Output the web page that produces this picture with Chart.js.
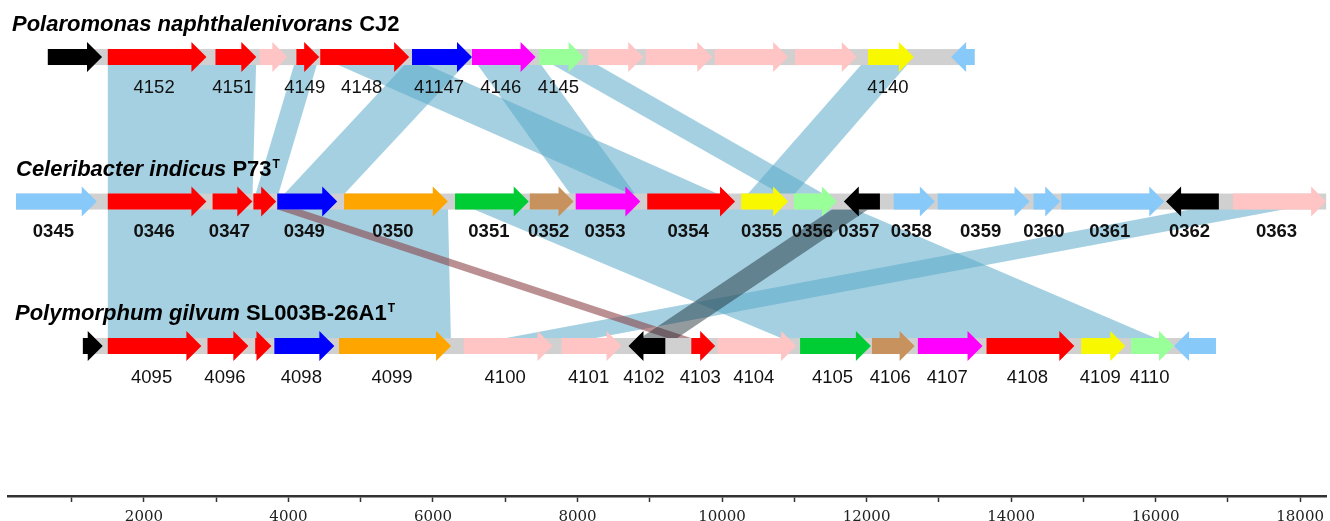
<!DOCTYPE html>
<html>
<head>
<meta charset="utf-8">
<script src="https://cdn.jsdelivr.net/npm/chart.js@4.4.1/dist/chart.umd.min.js"></script>
<style>
  html, body { margin: 0; padding: 0; background: #fff; }
</style>
</head>
<body>
<canvas id="synteny" width="1330" height="521"></canvas>
<script>
// Genome names (italic part, strain, superscript)
const titleSpecies = ['Polaromonas naphthalenivorans', 'Celeribacter indicus', 'Polymorphum gilvum'];
const titleStrain = ['CJ2', 'P73', 'SL003B-26A1'];
const titleSup = ['', 'T', 'T'];
const trackLevel = [3, 2, 1];

// axis ticks (bp), labelled every 2000
const tickValues = [1000, 2000, 3000, 4000, 5000, 6000, 7000, 8000, 9000, 10000,
                    11000, 12000, 13000, 14000, 15000, 16000, 17000, 18000];

// Track 1 - Polaromonas (bp)
const t1Start = [670, 1500, 2990, 3600, 4110, 4440, 5710, 6540, 7470, 8150, 8945, 9900, 11010, 12020, 13170];
const t1End   = [1420, 2865, 3555, 3985, 4425, 5670, 6540, 7420, 8085, 8910, 9865, 10915, 11865, 12655, 13495];
const t1Dir   = [1, 1, 1, 1, 1, 1, 1, 1, 1, 1, 1, 1, 1, 1, -1];
const t1Color = ['black', 'red', 'red', 'pink', 'red', 'red', 'blue', 'magenta', 'palegreen', 'pink', 'pink', 'pink', 'pink', 'yellow', 'skyblue'];
const t1Label = ['', '4152', '4151', '', '4149', '4148', '41147', '4146', '4145', '', '', '', '', '4140', ''];

// Track 2 - Celeribacter
const t2Start = [230, 1500, 2950, 3515, 3845, 4770, 6305, 7340, 7975, 8965, 10265, 10995, 11685, 12375, 12985, 14310, 14695, 16145, 17070];
const t2End   = [1347, 2865, 3500, 3830, 4675, 6205, 7325, 7945, 8870, 10180, 10915, 11590, 12185, 12945, 14255, 14680, 16120, 16875, 18360];
const t2Dir   = [1, 1, 1, 1, 1, 1, 1, 1, 1, 1, 1, 1, -1, 1, 1, 1, 1, -1, 1];
const t2Color = ['skyblue', 'red', 'red', 'red', 'blue', 'orange', 'green', 'brown', 'magenta', 'red', 'yellow', 'palegreen', 'black', 'skyblue', 'skyblue', 'skyblue', 'skyblue', 'black', 'pink'];
const t2Label = ['0345', '0346', '0347', '0348', '0349', '0350', '0351', '0352', '0353', '0354', '0355', '0356', '0357', '0358', '0359', '0360', '0361', '0362', '0363'];

// Track 3 - Polymorphum
const t3Start = [1155, 1500, 2880, 3540, 3805, 4700, 6425, 7780, 8705, 9575, 9935, 11080, 12075, 12710, 13660, 14970, 15660, 16255];
const t3End   = [1430, 2795, 3445, 3765, 4635, 6250, 7655, 8610, 9215, 9905, 11025, 12060, 12665, 13605, 14875, 15580, 16255, 16835];
const t3Dir   = [1, 1, 1, 1, 1, 1, 1, 1, -1, 1, 1, 1, 1, 1, 1, 1, 1, -1];
const t3Color = ['black', 'red', 'red', 'red', 'blue', 'orange', 'pink', 'pink', 'black', 'red', 'pink', 'green', 'brown', 'magenta', 'red', 'yellow', 'palegreen', 'skyblue'];
const t3Label = ['', '4095', '4096', '4097', '4098', '4099', '4100', '4101', '4102', '4103', '4104', '4105', '4106', '4107', '4108', '4109', '4110', ''];

const hiddenLabels = ['0348', '4097'];

// homology links: first..last gene on upper track -> first..last gene on lower track
const linkFrom = [['4152', '4151'], ['4149'], ['41147'], ['4148'], ['4146'], ['4145'], ['4140'],
                  ['0346', '0350'], ['0351', '0356'], ['0363'], ['0348'], ['0357']];
const linkTo   = [['0346', '0347'], ['0348'], ['0349'], ['0354'], ['0353'], ['0356'], ['0355'],
                  ['4095', '4099'], ['4105', '4110'], ['4100'], ['4103'], ['4102']];
const linkKind = ['blue', 'blue', 'blue', 'blue', 'blue', 'blue', 'blue',
                  'blue', 'blue', 'blue', 'brown', 'dark'];

const palette = {
  black: '#000000', red: '#ff0000', pink: '#ffc4c4', blue: '#0000ff', magenta: '#ff00ff',
  palegreen: '#99ff99', yellow: '#f8f800', skyblue: '#87cafa', orange: '#ffa500',
  green: '#00cc33', brown: '#c8925f'
};
const linkColors = { blue: 'rgba(90,170,200,0.55)', brown: 'rgba(140,70,75,0.6)', dark: 'rgba(30,45,55,0.48)' };

const tracks = [
  { start: t1Start, end: t1End, dir: t1Dir, color: t1Color, label: t1Label },
  { start: t2Start, end: t2End, dir: t2Dir, color: t2Color, label: t2Label },
  { start: t3Start, end: t3End, dir: t3Dir, color: t3Color, label: t3Label }
];

function findGene(name) {
  for (let t = 0; t < tracks.length; t++) {
    const i = tracks[t].label.indexOf(name);
    if (i >= 0) return { t, i };
  }
  return null;
}

function drawArrow(ctx, x1, x2, y, dir, color) {
  const head = Math.min(15, x2 - x1), bh = 8, hh = 15;
  ctx.beginPath();
  if (dir > 0) {
    ctx.moveTo(x1, y - bh);
    ctx.lineTo(x2 - head, y - bh);
    ctx.lineTo(x2 - head, y - hh);
    ctx.lineTo(x2, y);
    ctx.lineTo(x2 - head, y + hh);
    ctx.lineTo(x2 - head, y + bh);
    ctx.lineTo(x1, y + bh);
  } else {
    ctx.moveTo(x2, y - bh);
    ctx.lineTo(x1 + head, y - bh);
    ctx.lineTo(x1 + head, y - hh);
    ctx.lineTo(x1, y);
    ctx.lineTo(x1 + head, y + hh);
    ctx.lineTo(x1 + head, y + bh);
    ctx.lineTo(x2, y + bh);
  }
  ctx.closePath();
  ctx.fillStyle = color;
  ctx.fill();
}

const genePlugin = {
  id: 'genes',
  beforeDatasetsDraw(chart) {
    const ctx = chart.ctx, xs = chart.scales.x, ys = chart.scales.y;
    const px = v => xs.getPixelForValue(v);
    const trackY = trackLevel.map(v => ys.getPixelForValue(v));
    ctx.save();

    // links behind everything
    linkFrom.forEach((from, k) => {
      const a = from.map(findGene), b = linkTo[k].map(findGene);
      const ta = tracks[a[0].t], tb = tracks[b[0].t];
      const a1 = px(ta.start[a[0].i]), a2 = px(ta.end[a[a.length - 1].i]);
      const b1 = px(tb.start[b[0].i]), b2 = px(tb.end[b[b.length - 1].i]);
      const y1 = trackY[a[0].t], y2 = trackY[b[0].t];
      ctx.beginPath();
      ctx.moveTo(a1, y1); ctx.lineTo(a2, y1); ctx.lineTo(b2, y2); ctx.lineTo(b1, y2);
      ctx.closePath();
      ctx.fillStyle = linkColors[linkKind[k]];
      ctx.fill();
    });

    tracks.forEach((tr, t) => {
      const y = trackY[t];
      // backbone
      const x0 = px(Math.min(...tr.start)), x1 = px(Math.max(...tr.end));
      ctx.fillStyle = '#d0d0d0';
      ctx.fillRect(x0, y - 8, x1 - x0, 16);
      tr.start.forEach((s, i) => {
        drawArrow(ctx, px(s), px(tr.end[i]), y, tr.dir[i], palette[tr.color[i]]);
      });
      // gene labels
      ctx.fillStyle = '#111';
      ctx.textAlign = 'center';
      ctx.textBaseline = 'alphabetic';
      ctx.font = (t === 1 ? 'bold ' : '') + '18.5px "Liberation Sans", Arial, sans-serif';
      const dy = [36, 35, 37][t];
      tr.label.forEach((lab, i) => {
        if (!lab || hiddenLabels.includes(lab)) return;
        const cx = (px(tr.start[i]) + px(tr.end[i])) / 2 - 3;
        ctx.fillText(lab, cx, y + dy);
      });
      // title
      let tx = [12, 16, 15][t];
      const ty = y - 26;
      ctx.textAlign = 'left';
      ctx.fillStyle = '#000';
      ctx.font = 'italic bold 22px "Liberation Sans", Arial, sans-serif';
      const sp = titleSpecies[t] + ' ';
      ctx.fillText(sp, tx, ty);
      tx += ctx.measureText(sp).width;
      ctx.font = 'bold 22px "Liberation Sans", Arial, sans-serif';
      ctx.fillText(titleStrain[t], tx, ty);
      tx += ctx.measureText(titleStrain[t]).width + 1;
      if (titleSup[t]) {
        ctx.font = 'bold 12px "Liberation Sans", Arial, sans-serif';
        ctx.fillText(titleSup[t], tx, ty - 8);
      }
    });
    ctx.restore();
  }
};

new Chart(document.getElementById('synteny'), {
  type: 'scatter',
  data: { datasets: [{ data: [] }] },
  options: {
    responsive: false,
    animation: false,
    layout: { padding: { left: 8, right: 0, top: 0, bottom: -11 } },
    plugins: { legend: { display: false }, tooltip: { enabled: false } },
    scales: {
      x: {
        type: 'linear',
        position: 'bottom',
        min: 119,
        max: 18368,
        afterBuildTicks: axis => { axis.ticks = tickValues.map(v => ({ value: v })); },
        ticks: {
          autoSkip: false,
          maxRotation: 0,
          color: '#222',
          padding: 6,
          font: { family: '"DejaVu Serif", "Liberation Serif", serif', size: 15 },
          callback: v => (v % 2000 === 0 ? String(v) : '')
        },
        grid: { display: true, drawOnChartArea: false, drawTicks: true, tickLength: 6, tickColor: '#333', tickWidth: 1.5 },
        border: { display: true, color: '#333', width: 2.5 }
      },
      y: { display: false, min: -0.038, max: 3.395 }
    }
  },
  plugins: [genePlugin]
});
</script>
</body>
</html>
